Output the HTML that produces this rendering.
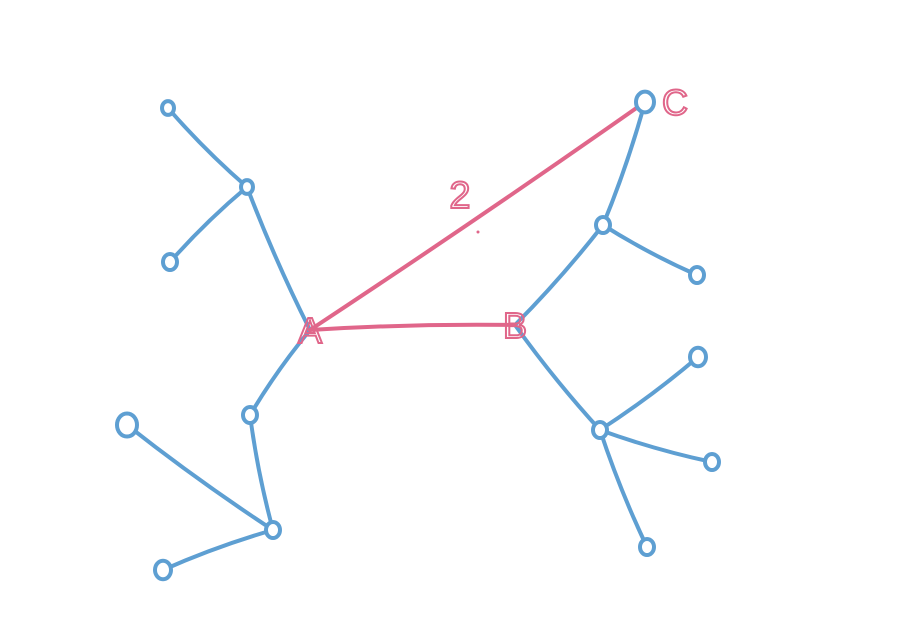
<!DOCTYPE html>
<html>
<head>
<meta charset="utf-8">
<style>
  html,body{margin:0;padding:0;background:#fff;}
  svg{display:block;}
  text{font-family:"Liberation Sans",sans-serif;font-weight:normal;}
</style>
</head>
<body>
<svg id="chart" width="920" height="623" viewBox="0 0 920 623" xmlns="http://www.w3.org/2000/svg">
  <rect width="920" height="623" fill="#ffffff"/>
  <g id="edges"></g>
  <g id="nodes"></g>
  <g id="labels"></g>
</svg>
<script>
const nodeNames = ["n1","n2","n3","A","n4","n5","n6","n7","B","C","n8","n9","n10","n11","n12","n13"];
const nodeX = [168,247,170,310,250,127,273,163,515,645,603,697,600,698,712,647];
const nodeY = [108,187,262,330,415,425,530,570,325,102,225,275,430,357,462,547];
const nodeR = [6,6,7,0,7,10,7,8,0,9,7,7,7,8,7,7];
const blueEdges = [["n1","n2"],["n2","n3"],["n2","A"],["A","n4"],["n4","n6"],["n5","n6"],["n6","n7"],["B","n8"],["n8","C"],["n8","n9"],["B","n10"],["n10","n11"],["n10","n12"],["n10","n13"]];
const redEdges = [["A","B"],["A","C"]];
const letterNodes = ["A","B","C"];
const letterDX = [0,0,30];

const NS = "http://www.w3.org/2000/svg";
const BLUE = "#5e9fd2", RED = "#e0668a";
function idx(n){return nodeNames.indexOf(n);}
function px(n){return nodeX[idx(n)];}
function py(n){return nodeY[idx(n)];}

const eg = document.getElementById("edges");
function drawEdge(e, color, bend){
  const x1=px(e[0]),y1=py(e[0]),x2=px(e[1]),y2=py(e[1]);
  const mx=(x1+x2)/2, my=(y1+y2)/2;
  const dx=x2-x1, dy=y2-y1, L=Math.hypot(dx,dy)||1;
  const cx=mx - dy/L*bend, cy=my + dx/L*bend;
  const p=document.createElementNS(NS,"path");
  p.setAttribute("d",`M${x1},${y1} Q${cx},${cy} ${x2},${y2}`);
  p.setAttribute("fill","none");
  p.setAttribute("stroke",color);
  p.setAttribute("stroke-width","4");
  p.setAttribute("stroke-linecap","round");
  
  
  eg.appendChild(p);
}
blueEdges.forEach(e=>drawEdge(e,BLUE,4));
redEdges.forEach(e=>drawEdge(e,RED,e[1]==="B"?-4:3));

const ng = document.getElementById("nodes");
nodeNames.forEach((n,i)=>{
  if(nodeR[i]<=0) return;
  const c=document.createElementNS(NS,"ellipse");
  c.setAttribute("cx",nodeX[i]);
  c.setAttribute("cy",nodeY[i]);
  c.setAttribute("rx",nodeR[i]);
  c.setAttribute("ry",nodeR[i]*1.15);
  c.setAttribute("fill","#fff");
  c.setAttribute("stroke",BLUE);
  c.setAttribute("stroke-width","4");
  
  
  ng.appendChild(c);
});

const lg = document.getElementById("labels");
letterNodes.forEach((n,i)=>{
  const t=document.createElementNS(NS,"text");
  t.setAttribute("x",px(n)+letterDX[i]);
  t.setAttribute("y",py(n)+13);
  t.setAttribute("text-anchor","middle");
  t.setAttribute("font-size","36");
  t.setAttribute("fill","none");
  t.setAttribute("stroke",RED);
  t.setAttribute("stroke-width","2");
  t.textContent=n;
  
  
  lg.appendChild(t);
});
const w=document.createElementNS(NS,"text");
w.setAttribute("x",460);w.setAttribute("y",208);
w.setAttribute("text-anchor","middle");
w.setAttribute("font-size","38");
w.setAttribute("fill","none");
w.setAttribute("stroke",RED);
w.setAttribute("stroke-width","2");
w.textContent="2";


lg.appendChild(w);
const d=document.createElementNS(NS,"circle");
d.setAttribute("cx",478);d.setAttribute("cy",232);d.setAttribute("r",1.5);
d.setAttribute("fill",RED);


lg.appendChild(d);
</script>
</body>
</html>
